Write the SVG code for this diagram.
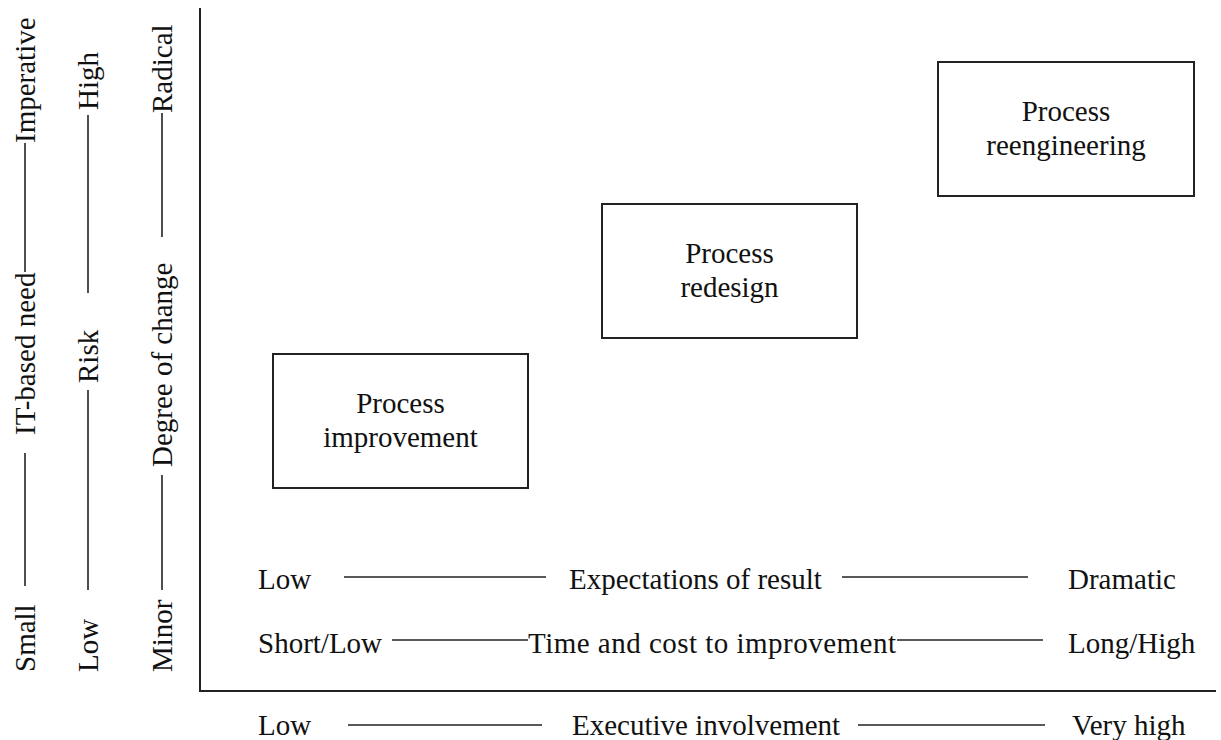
<svg xmlns="http://www.w3.org/2000/svg" width="1221" height="740" viewBox="0 0 1221 740">
  <style>
    .box { fill: none; stroke: #222; stroke-width: 2; }
    .rule { stroke: #222; stroke-width: 1.6; fill: none; }
    .axis { stroke: #222; stroke-width: 2; fill: none; }
  </style>
  <rect width="1221" height="740" fill="#fff"/>

  <!-- axes -->
  <g id="axes">
    <path class="axis" d="M200 8 V691 H1216"/>
  </g>

  <!-- scale rules -->
  <g id="connectors">
    <!-- vertical scales -->
    <line class="rule" x1="25" y1="586" x2="25" y2="453"/>
    <line class="rule" x1="25" y1="272" x2="25" y2="143"/>
    <line class="rule" x1="88" y1="590" x2="88" y2="390"/>
    <line class="rule" x1="88" y1="293" x2="88" y2="115"/>
    <line class="rule" x1="162" y1="590" x2="162" y2="475"/>
    <line class="rule" x1="162" y1="237" x2="162" y2="113"/>
    <!-- horizontal scales -->
    <line class="rule" x1="344" y1="577" x2="546" y2="577"/>
    <line class="rule" x1="842" y1="577" x2="1028" y2="577"/>
    <line class="rule" x1="392" y1="640" x2="528" y2="640"/>
    <line class="rule" x1="897" y1="640" x2="1043" y2="640"/>
    <line class="rule" x1="348" y1="725" x2="542" y2="725"/>
    <line class="rule" x1="858" y1="725" x2="1045" y2="725"/>
  </g>

  <g font-family="'Liberation Serif', 'Times New Roman', serif" font-size="29" fill="#111">
    <!-- vertical scale labels -->
    <g id="scale-it-need">
      <text transform="translate(35 672) rotate(-90)">Small</text>
      <text transform="translate(35 435) rotate(-90)">IT-based need</text>
      <text transform="translate(35 143) rotate(-90)">Imperative</text>
    </g>
    <g id="scale-risk">
      <text transform="translate(98 672) rotate(-90)">Low</text>
      <text transform="translate(98 383) rotate(-90)">Risk</text>
      <text transform="translate(98 110) rotate(-90)">High</text>
    </g>
    <g id="scale-change">
      <text transform="translate(172 672) rotate(-90)">Minor</text>
      <text transform="translate(172 467) rotate(-90)">Degree of change</text>
      <text transform="translate(172 113) rotate(-90)">Radical</text>
    </g>

    <!-- horizontal scale labels -->
    <g id="scale-expectations">
      <text x="258" y="589">Low</text>
      <text x="569" y="589">Expectations of result</text>
      <text x="1068" y="589">Dramatic</text>
    </g>
    <g id="scale-time-cost">
      <text x="258" y="653">Short/Low</text>
      <text x="528" y="653" textLength="368" lengthAdjust="spacing">Time and cost to improvement</text>
      <text x="1068" y="653">Long/High</text>
    </g>
    <g id="scale-executive">
      <text x="258" y="735">Low</text>
      <text x="572" y="735">Executive involvement</text>
      <text x="1072" y="735">Very high</text>
    </g>

    <!-- process nodes -->
    <g id="process-improvement" text-anchor="middle">
      <rect class="box" x="273" y="354" width="255" height="134"/>
      <text x="400.5" y="413">Process</text>
      <text x="400.5" y="447">improvement</text>
    </g>
    <g id="process-redesign" text-anchor="middle">
      <rect class="box" x="602" y="204" width="255" height="134"/>
      <text x="729.5" y="263">Process</text>
      <text x="729.5" y="297">redesign</text>
    </g>
    <g id="process-reengineering" text-anchor="middle">
      <rect class="box" x="938" y="62" width="256" height="134"/>
      <text x="1066" y="121">Process</text>
      <text x="1066" y="155">reengineering</text>
    </g>
  </g>
</svg>
